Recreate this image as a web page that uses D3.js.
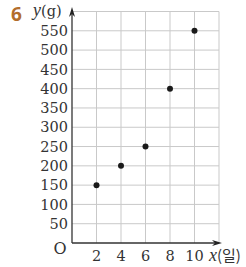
<!DOCTYPE html>
<html><head><meta charset="utf-8">
<script src="https://cdn.jsdelivr.net/npm/d3@7"></script>
<style>body{margin:0;background:#fff}svg{display:block}</style>
</head><body>
<script>
const days = [2, 4, 6, 8, 10];
const weights = [150, 200, 250, 400, 550];
const xTicks = [2, 4, 6, 8, 10];
const yTicks = [50, 100, 150, 200, 250, 300, 350, 400, 450, 500, 550];

const W = 246, H = 267;
const svg = d3.select("body").append("svg").attr("width", W).attr("height", H);
const x0 = 72, y0 = 243;
const x = d3.scaleLinear().domain([0, 12]).range([x0, 219]);
const y = d3.scaleLinear().domain([0, 600]).range([y0, 11.5]);
const serif = "'DejaVu Serif','Liberation Serif',serif";
const ital = "'Liberation Serif','DejaVu Serif',serif";

// grid
const grid = svg.append("g").attr("stroke", "#c9c9c9").attr("stroke-width", 1);
d3.range(2, 13, 2).forEach(v => grid.append("line").attr("x1", x(v)).attr("x2", x(v)).attr("y1", y(0)).attr("y2", y(600)));
d3.range(50, 601, 50).forEach(v => grid.append("line").attr("x1", x(0)).attr("x2", x(12)).attr("y1", y(v)).attr("y2", y(v)));

// axes
const ax = svg.append("g").attr("stroke", "#333").attr("stroke-width", 1.3);
ax.append("line").attr("x1", x0).attr("x2", x0).attr("y1", y0).attr("y2", 12);
ax.append("line").attr("x1", x0).attr("x2", 216).attr("y1", y0).attr("y2", y0);
svg.append("path").attr("d", `M${x0},7 L${x0-3},17 L${x0},14 L${x0+3},17 Z`).attr("fill", "#222");
svg.append("path").attr("d", `M222,${y0} L212,${y0-3} L215,${y0} L212,${y0+3} Z`).attr("fill", "#222");

// y tick labels
svg.append("g").selectAll("text").data(yTicks).join("text")
  .attr("x", x0 - 4).attr("y", d => y(d)).attr("dy", "0.36em")
  .attr("text-anchor", "end").attr("font-family", serif).attr("font-size", 14.5).attr("fill", "#333")
  .text(d => d);
// x tick labels
svg.append("g").selectAll("text").data(xTicks).join("text")
  .attr("x", d => x(d)).attr("y", 261)
  .attr("text-anchor", "middle").attr("font-family", serif).attr("font-size", 14.5).attr("fill", "#333")
  .text(d => d);
svg.append("text").attr("x", 60).attr("y", 254).attr("text-anchor", "middle")
  .attr("font-family", serif).attr("font-size", 16).attr("fill", "#333").text("O");

// axis titles
const yt = svg.append("text").attr("x", 33).attr("y", 16).attr("font-family", serif).attr("font-size", 14.5).attr("fill", "#333");
yt.append("tspan").attr("font-style", "italic").attr("font-family", ital).attr("font-size", 18).text("y");
yt.append("tspan").text("(g)");
const xt = svg.append("text").attr("x", 209).attr("y", 261).attr("font-family", serif).attr("font-size", 14.5).attr("fill", "#333");
xt.append("tspan").attr("font-style", "italic").attr("font-family", ital).attr("font-size", 18).text("x");
xt.append("tspan").attr("font-family", "'Noto Sans CJK KR',sans-serif").attr("font-size", 15).text("(일)");

// problem number
svg.append("text").attr("x", 11).attr("y", 21).attr("font-family", "'Noto Sans','DejaVu Sans',sans-serif")
  .attr("font-weight", "bold").attr("font-size", 19).attr("fill", "#b26d2c").text("6");

// points
svg.append("g").selectAll("circle").data(days).join("circle")
  .attr("cx", d => x(d)).attr("cy", (d, i) => y(weights[i])).attr("r", 3).attr("fill", "#1a1a1a");
</script>
</body></html>
